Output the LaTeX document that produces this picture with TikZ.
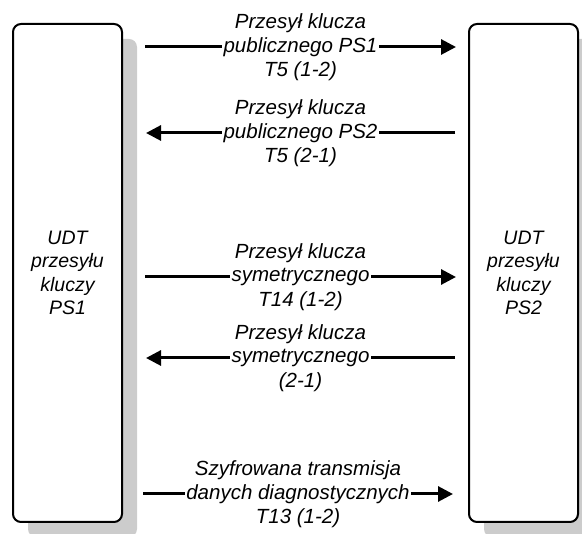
\documentclass[tikz,border=0pt]{standalone}
\usepackage{fontspec}
\setmainfont{Liberation Sans}
\usetikzlibrary{arrows.meta,shadows}
\begin{document}
\begin{tikzpicture}[x=1pt,y=-1pt,
  boxfont/.style={font=\itshape\fontsize{19.5}{23.5}\selectfont},
  lbl/.style={font=\itshape\fontsize{20.5}{24}\selectfont},
  box/.style={draw=black, line width=2pt, rounded corners=8pt, fill=white,
    align=center, boxfont, minimum width=109pt, minimum height=498pt, inner sep=0pt,
    drop shadow={shadow xshift=15pt, shadow yshift=-15pt, fill=black!20, opacity=1}},
  msg/.style={line width=3pt, -{Triangle[length=15pt,width=15pt]}},
  mid/.style={lbl, fill=white, inner sep=1.5pt},
  txt/.style={lbl, inner sep=0pt},
]
\useasboundingbox (0,0) rectangle (582,534);
\clip (0,0) rectangle (582,534);
\node[box] (L) at (67.5,273) {UDT\\przesyłu\\kluczy\\PS1};
\node[box] (R) at (523.5,273) {UDT\\przesyłu\\kluczy\\PS2};

\coordinate (a1s) at (145,47);  \coordinate (a1e) at (456,47);
\coordinate (a2s) at (455,133); \coordinate (a2e) at (146,133);
\coordinate (a3s) at (145,277); \coordinate (a3e) at (456,277);
\coordinate (a4s) at (455,358); \coordinate (a4e) at (146,358);
\coordinate (a5s) at (143,494); \coordinate (a5e) at (453,494);

\draw[msg] (a1s) -- node[mid] (m1) {publicznego PS1} (a1e);
\draw[msg] (a2s) -- node[mid] (m2) {publicznego PS2} (a2e);
\draw[msg] (a3s) -- node[mid] (m3) {symetrycznego} (a3e);
\draw[msg] (a4s) -- node[mid] (m4) {symetrycznego} (a4e);
\draw[msg] (a5s) -- node[mid] (m5) {danych diagnostycznych} (a5e);

\node[txt] at ([yshift=24pt]m1.center) {Przesył klucza};
\node[txt] at ([yshift=-24pt]m1.center) {T5 (1-2)};
\node[txt] at ([yshift=24pt]m2.center) {Przesył klucza};
\node[txt] at ([yshift=-24pt]m2.center) {T5 (2-1)};
\node[txt] at ([yshift=24pt]m3.center) {Przesył klucza};
\node[txt] at ([yshift=-24pt]m3.center) {T14 (1-2)};
\node[txt] at ([yshift=24pt]m4.center) {Przesył klucza};
\node[txt] at ([yshift=-24pt]m4.center) {(2-1)};
\node[txt] at ([yshift=24pt]m5.center) {Szyfrowana transmisja};
\node[txt] at ([yshift=-24pt]m5.center) {T13 (1-2)};
\end{tikzpicture}
\end{document}
